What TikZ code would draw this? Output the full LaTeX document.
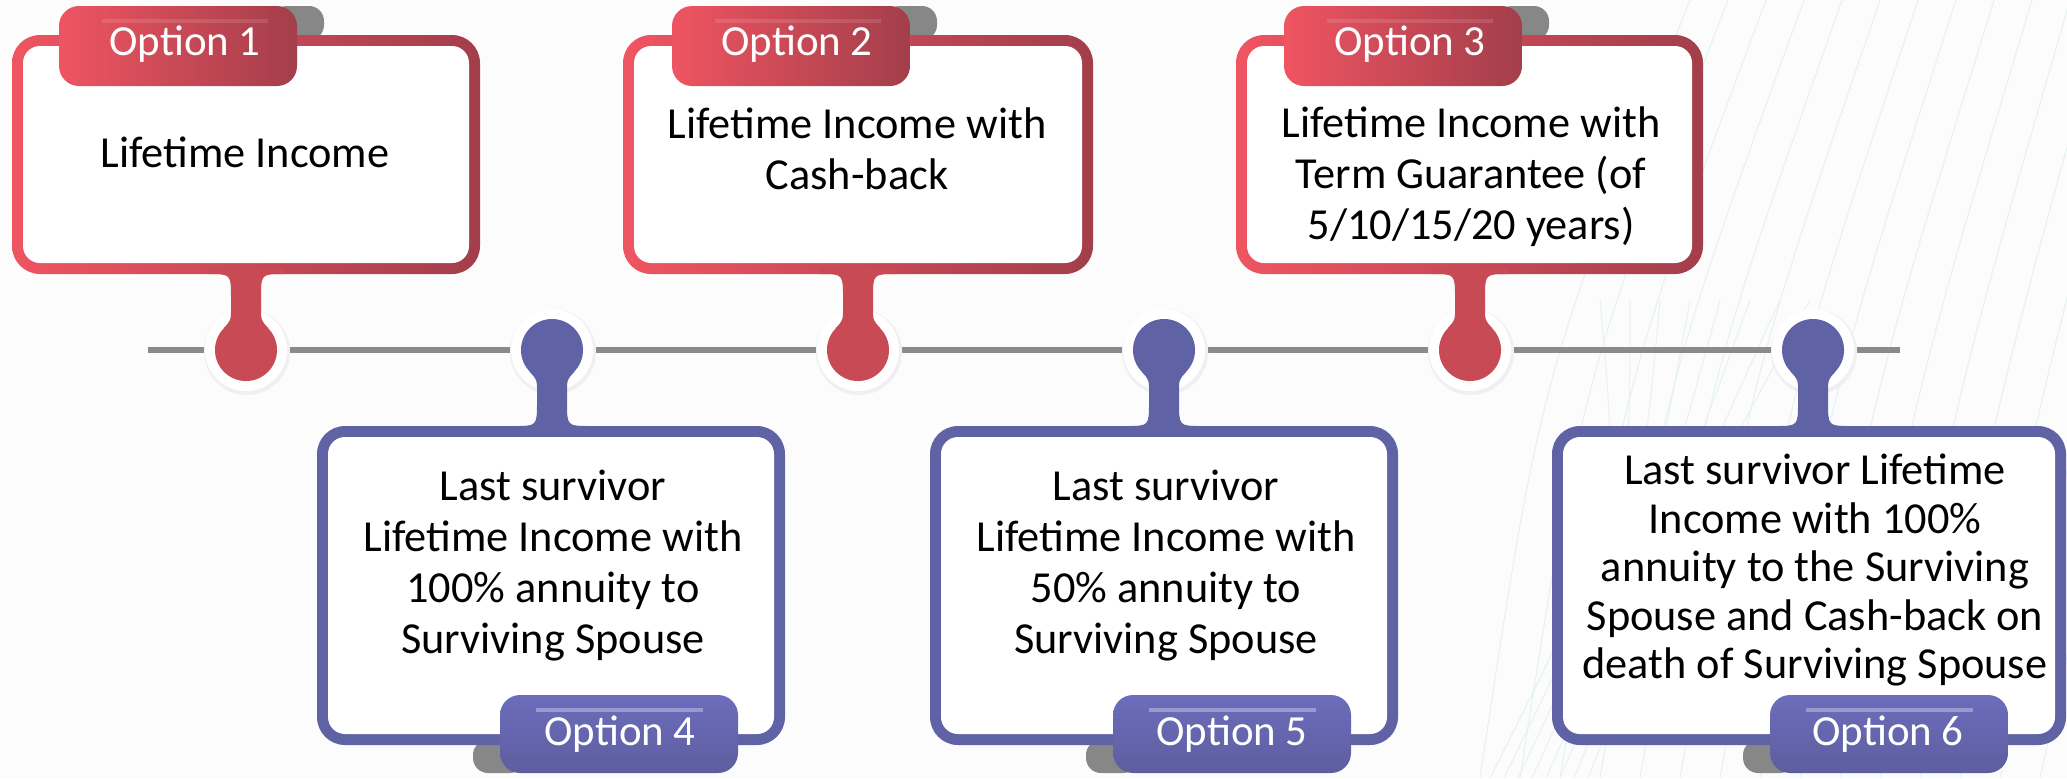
\documentclass[tikz,border=0pt]{standalone}
\usepackage{fontspec}
\setmainfont{Carlito}

\definecolor{redL}{HTML}{EF5461}
\definecolor{redR}{HTML}{A33E4B}
\definecolor{redM}{HTML}{C84A55}
\definecolor{purp}{HTML}{6062A6}
\definecolor{purpL}{HTML}{6C6DBC}
\definecolor{purpD}{HTML}{5D5E9F}
\definecolor{curlgrey}{HTML}{878787}
\definecolor{linegrey}{HTML}{8A8A8A}
\definecolor{bg}{HTML}{FCFCFC}
\definecolor{mesh}{HTML}{E4F2F2}
\definecolor{meshgreen}{HTML}{E6F4EA}

\tikzset{
  redbox/.style={left color=redL, right color=redR, rounded corners=0.28cm},
  bluebox/.style={fill=purp, rounded corners=0.28cm},
  innerbox/.style={fill=white, rounded corners=0.17cm},
  redtab/.style={left color=redL, right color=redR, rounded corners=0.2cm},
  bluetab/.style={top color=purpL, bottom color=purpD, rounded corners=0.2cm},
  curl/.style={fill=curlgrey, rounded corners=0.15cm},
  ring/.style={fill=white},
  boxtext/.style={font=\fontsize{12.6}{14.5}\selectfont, align=center, inner sep=0pt, anchor=north},
  tighttext/.style={boxtext, font=\fontsize{12.6}{13.8}\selectfont},
  optlabel/.style={font=\fontsize{12.2}{14}\selectfont, text=white, inner sep=0pt, anchor=base},
}

\begin{document}
\begin{tikzpicture}[x=0.01cm, y=-0.01cm]

\fill[bg] (0,0) rectangle (2067,778);
\useasboundingbox (0,0) rectangle (2067,778);

\foreach \k in {0,...,18}
  \draw[mesh, line width=0.3pt] (1480+40*\k,778) .. controls (1540+42*\k,380) .. (1690+38*\k,0);
\foreach \k in {0,...,7}
  \draw[meshgreen, line width=0.3pt] (1490+14*\k,778) .. controls (1620+10*\k,520) .. (1600+30*\k,300);

\coordinate (tl-start) at (148,350);
\coordinate (tl-end) at (1900,350);
\draw[linegrey, line width=0.06cm] (tl-start) -- (tl-end);

% top row
\foreach \a/\b/\c/\t in {12/480/246/59, 623/1093/858/672, 1236/1703/1470/1284}{
  \fill[curl] (\t+213,6) rectangle (\t+265,40);
  \shade[redbox] (\a,35) rectangle (\b,274);
  \fill[innerbox] (\a+11,46) rectangle (\b-11,263);
  \shade[redtab] (\t,6) rectangle (\t+238,86);
  \draw[white, opacity=0.12, line width=1pt] (\t+43,21) -- (\t+209,21);
  \fill[black!6] (\c+1,352) circle[radius=0.43cm];
  \fill[ring] (\c,350) circle[radius=0.41cm];
  \fill[redM] (\c-38,268) -- (\c-38,274) .. controls (\c-15,274) .. (\c-15,298)
    -- (\c-15,310) .. controls (\c-15,320) .. (\c-22,328) -- (\c+22,328)
    .. controls (\c+15,320) .. (\c+15,310) -- (\c+15,298)
    .. controls (\c+15,274) .. (\c+38,274) -- (\c+38,268) -- cycle;
  \fill[redM] (\c,350) circle[radius=0.31cm];
}

% bottom row
\foreach \a/\b/\c/\t in {317/785/552/500, 930/1398/1164/1113, 1552/2066/1813/1770}{
  \fill[curl] (\t-27,740) rectangle (\t+25,773);
  \fill[bluebox] (\a,426) rectangle (\b,745);
  \fill[innerbox] (\a+11,437) rectangle (\b-11,734);
  \shade[bluetab] (\t,695) rectangle (\t+238,773);
  \draw[purpL!70!white, line width=1pt] (\t+36,710) -- (\t+203,710);
  \fill[black!6] (\c+1,352) circle[radius=0.43cm];
  \fill[ring] (\c,350) circle[radius=0.41cm];
  \fill[purp] (\c-38,432) -- (\c-38,426) .. controls (\c-15,426) .. (\c-15,402)
    -- (\c-15,390) .. controls (\c-15,380) .. (\c-22,372) -- (\c+22,372)
    .. controls (\c+15,380) .. (\c+15,390) -- (\c+15,402)
    .. controls (\c+15,426) .. (\c+38,426) -- (\c+38,432) -- cycle;
  \fill[purp] (\c,350) circle[radius=0.31cm];
}

\node[optlabel] (opt1) at (185,55) {Option 1};
\node[optlabel] (opt2) at (797,55) {Option 2};
\node[optlabel] (opt3) at (1410,55) {Option 3};
\node[optlabel] (opt4) at (620,745) {Option 4};
\node[optlabel] (opt5) at (1232,745) {Option 5};
\node[optlabel] (opt6) at (1888,745) {Option 6};

\node[boxtext] (txt1) at (245,131) {\strut Lifetime Income};
\node[boxtext] (txt2) at (857,102) {\strut Lifetime Income with\\Cash-back};
\node[boxtext] (txt3) at (1471,101) {\strut Lifetime Income with\\Term Guarantee (of\\5/10/15/20 years)};
\node[boxtext] (txt4) at (553,464) {\strut Last survivor\\Lifetime Income with\\100\% annuity to\\Surviving Spouse};
\node[boxtext] (txt5) at (1166,464) {\strut Last survivor\\Lifetime Income with\\50\% annuity to\\Surviving Spouse};
\node[tighttext] (txt6) at (1815,450) {\strut Last survivor Lifetime\\Income with 100\%\\annuity to the Surviving\\Spouse and Cash-back on\\death of Surviving Spouse};

\end{tikzpicture}
\end{document}
